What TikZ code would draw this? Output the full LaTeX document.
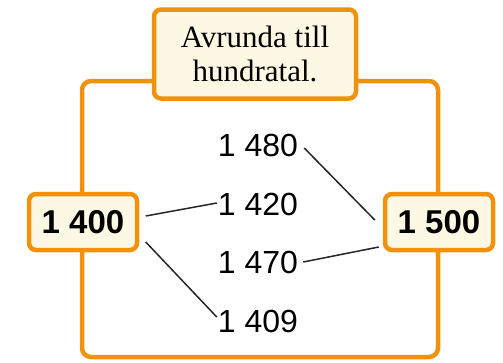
\documentclass[tikz,border=0pt]{standalone}
\usepackage{fontspec}
\setsansfont{Liberation Sans}
\newfontfamily\titlefont{Liberation Serif}
\definecolor{frameor}{HTML}{F0920E}
\definecolor{cream}{HTML}{FDF8E4}
\begin{document}
\begin{tikzpicture}[x=1pt,y=-1pt,
  framebox/.style={draw=frameor,line width=4.5pt,fill=cream,rounded corners=7pt},
  numbox/.style={framebox,minimum width=108pt,minimum height=56pt,inner sep=0pt,font=\sffamily\bfseries\fontsize{33}{36}\selectfont},
  num/.style={font=\sffamily\fontsize{32}{36}\selectfont,inner sep=1pt},
  link/.style={line width=1.5pt,draw=black!85}]
\useasboundingbox (0,0) rectangle (503,362);
\draw[draw=frameor,line width=4.5pt,rounded corners=9pt] (82,81) rectangle (438,357);
\node[framebox,minimum width=202pt,minimum height=89pt,inner sep=0pt,align=center,
  font=\titlefont\fontsize{31}{34}\selectfont] (title) at (255,54) {Avrunda till\\hundratal.};
\node[numbox] (a) at (83,222) {1 400};
\node[numbox] (b) at (439,222) {1 500};
\node[num] (n1) at (258,145) {1 480};
\node[num] (n2) at (258,204) {1 420};
\node[num] (n3) at (258,262) {1 470};
\node[num] (n4) at (258,321) {1 409};
\draw[link] ([xshift=6.5pt,yshift=6pt]a.east) -- ([yshift=1pt]n2.west);
\draw[link] ([xshift=6.5pt,yshift=-20pt]a.east) -- ([yshift=4pt]n4.west);
\draw[link] ([xshift=5pt,yshift=-3pt]n1.east) -- ([xshift=-8pt,yshift=2pt]b.west);
\draw[link] ([xshift=4pt]n3.east) -- ([xshift=-4pt,yshift=-25pt]b.west);
\end{tikzpicture}
\end{document}
